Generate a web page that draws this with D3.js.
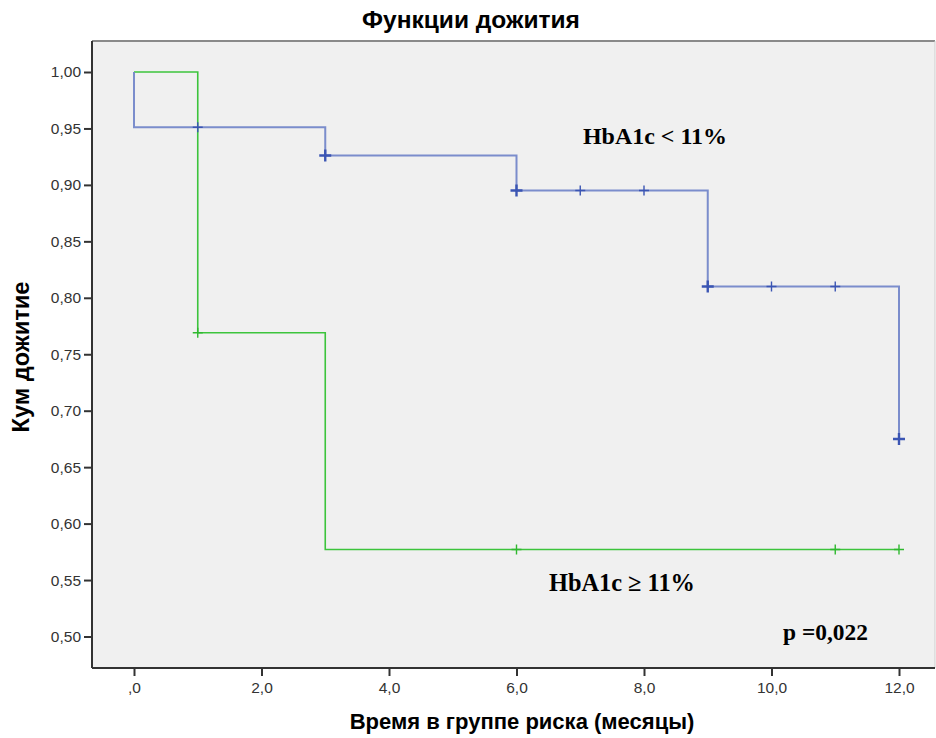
<!DOCTYPE html>
<html><head><meta charset="utf-8">
<script src="https://cdn.jsdelivr.net/npm/d3@7"></script>
<style>body{margin:0;background:#fff}svg{display:block}</style>
</head><body>
<svg id="c" width="936" height="738"></svg>
<script>
const xTicks = [0,2,4,6,8,10,12];
const xTickLabels = [",0","2,0","4,0","6,0","8,0","10,0","12,0"];
const yTicks = [0.50,0.55,0.60,0.65,0.70,0.75,0.80,0.85,0.90,0.95,1.00];
const yTickLabels = ["0,50","0,55","0,60","0,65","0,70","0,75","0,80","0,85","0,90","0,95","1,00"];

const lowTimes = [0,0,3,6,9,12];
const lowSurv = [1.0,0.951,0.926,0.895,0.810,0.675];
const lowCensT = [1,3,6,7,8,9,10,11,12];
const lowCensS = [0.951,0.926,0.895,0.895,0.895,0.810,0.810,0.810,0.675];
const lowCensN = [1,2,2,1,1,2,1,1,2];

const highTimes = [0,1,3,12];
const highSurv = [1.0,0.769,0.577,0.577];
const highCensT = [1,6,11,12];
const highCensS = [0.769,0.577,0.577,0.577];

const svg = d3.select("#c");
const x = d3.scaleLinear().domain([0,12]).range([134,899]);
const y = d3.scaleLinear().domain([0.5,1.0]).range([636.5,72]);
const L=92, R=935, T=41, B=668;
const sans="Liberation Sans, Arial, sans-serif";
const serif="Liberation Serif, Times New Roman, serif";

svg.append("rect").attr("x",L).attr("y",T).attr("width",R-L).attr("height",B-T).attr("fill","#f0f0f0");
svg.append("line").attr("x1",L).attr("x2",R).attr("y1",T).attr("y2",T).attr("stroke","#8a8a8a").attr("stroke-width",2);
svg.append("line").attr("x1",R).attr("x2",R).attr("y1",T).attr("y2",B).attr("stroke","#cfcfcf").attr("stroke-width",1);

const yAxis = d3.axisLeft(y).tickValues(yTicks).tickFormat((d,i)=>yTickLabels[i]).tickSizeOuter(0).tickSize(8).tickPadding(3);
const gy = svg.append("g").attr("transform",`translate(${L},0)`).call(yAxis);
gy.select(".domain").attr("d",`M0,${T}V${B}`).attr("stroke","#333").attr("stroke-width",2);
gy.selectAll(".tick line").attr("stroke","#333").attr("stroke-width",2);
gy.selectAll(".tick text").attr("font-family",sans).attr("font-size",15.5).attr("fill","#333");

const xAxis = d3.axisBottom(x).tickValues(xTicks).tickFormat((d,i)=>xTickLabels[i]).tickSizeOuter(0).tickSize(8).tickPadding(6);
const gx = svg.append("g").attr("transform",`translate(0,${B})`).call(xAxis);
gx.select(".domain").attr("d",`M${L},0H${R}`).attr("stroke","#333").attr("stroke-width",2);
gx.selectAll(".tick line").attr("stroke","#333").attr("stroke-width",2);
gx.selectAll(".tick text").attr("font-family",sans).attr("font-size",15.5).attr("fill","#333");

const line = d3.line().x(d=>x(d[0])).y(d=>y(d[1])).curve(d3.curveStepAfter);
const blue="#6e82c8", blueDark="#3b55b3", green="#3cc43c";
svg.append("path").attr("d",line(highTimes.map((t,i)=>[t,highSurv[i]]))).attr("fill","none").attr("stroke",green).attr("stroke-width",1.6);
svg.append("path").attr("d",line(lowTimes.map((t,i)=>[t,lowSurv[i]]))).attr("fill","none").attr("stroke",blue).attr("stroke-width",2).attr("stroke-opacity",0.9);

function cross(t,s,col,w,sz){
  svg.append("path").attr("d",`M${x(t)-sz},${y(s)}H${x(t)+sz}M${x(t)},${y(s)-sz}V${y(s)+sz}`)
    .attr("stroke",col).attr("stroke-width",w).attr("fill","none");
}
lowCensT.forEach((t,i)=>cross(t,lowCensS[i],blueDark,lowCensN[i]>1?2.4:1.4,lowCensN[i]>1?6:5));
highCensT.forEach((t,i)=>cross(t,highCensS[i],"#2fb82f",1.4,5));

function fitText(sel, target, base){
  sel.attr("font-size",base);
  const w = sel.node().getComputedTextLength();
  sel.attr("font-size", base*target/w);
  return sel;
}
fitText(svg.append("text").attr("x",583).attr("y",144).attr("font-family",serif).attr("font-weight","bold").text("HbA1c < 11%"),144,21);
fitText(svg.append("text").attr("x",549).attr("y",591).attr("font-family",serif).attr("font-weight","bold").text("HbA1c \u2265 11%"),146,21);
fitText(svg.append("text").attr("x",783).attr("y",640).attr("font-family",serif).attr("font-weight","bold").text("p =0,022"),85,21);

fitText(svg.append("text").attr("x",471).attr("y",28).attr("text-anchor","middle").attr("font-family",sans).attr("font-weight","bold").text("Функции дожития"),218,19);
fitText(svg.append("text").attr("x",522).attr("y",729).attr("text-anchor","middle").attr("font-family",sans).attr("font-weight","bold").text("Время в группе риска (месяцы)"),345,19);
fitText(svg.append("text").attr("transform","translate(29,357) rotate(-90)").attr("text-anchor","middle").attr("font-family",sans).attr("font-weight","bold").text("Кум дожитие"),151,19);
</script>
</body></html>
